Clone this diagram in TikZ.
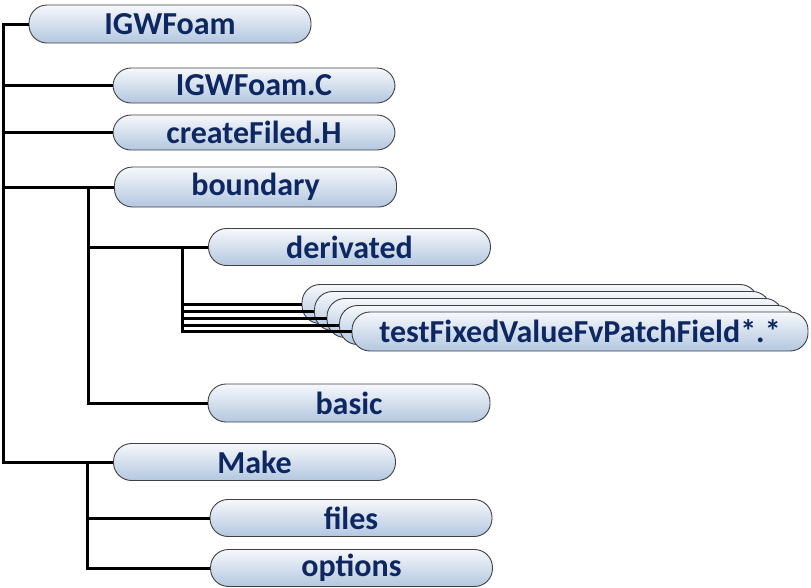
\documentclass[tikz,border=0pt]{standalone}
\usepackage{fontspec}
\setmainfont{Carlito}
\usepackage{xcolor}
\usetikzlibrary{calc,positioning}

\definecolor{navytext}{HTML}{0E2760}
\definecolor{boxtop}{HTML}{F6F8FC}
\definecolor{boxbottom}{HTML}{B3C7E0}
\definecolor{boxedge}{HTML}{404040}

\begin{document}
\begin{tikzpicture}[x=1pt, y=-1pt,
  folder/.style={rectangle, draw=boxedge, line width=0.9pt, top color=boxtop, bottom color=boxbottom,
    rounded corners=18pt, minimum width=282pt, minimum height=37pt, inner sep=0pt,
    text=navytext, font=\fontsize{32}{36}\selectfont\bfseries},
  stackbox/.style={folder, minimum width=456pt, minimum height=39pt},
  tree/.style={draw=black, line width=3pt}
]
\useasboundingbox (0,0) rectangle (811,587);

% top level
\node[folder, minimum height=38pt] (igw) at (170,24) {IGWFoam};
\node[folder, minimum height=35pt] (igwc) at (254,85.5) {IGWFoam.C};
\node[folder, minimum height=35pt] (create) at (254,132.5) {createFiled.H};
\node[folder, minimum height=40pt] (boundary) at (255.5,187) {boundary};
\node[folder] (make) at (254.5,462) {Make};

% boundary
\node[folder] (derivated) at (349.5,247) {derivated};
\node[folder, minimum height=38pt] (basic) at (349,403) {basic};

% stacked patch field files
\foreach \i in {0,...,3}
  \node[stackbox] (stk\i) at ({530+12.5*\i},{304+7*\i}) {};
\node[stackbox] (stk4) at (580,331.5) {testFixedValueFvPatchField*.*};

% Make
\node[folder] (files) at (351,518) {files};
\node[folder] (options) at (351.5,568) {options};

% connectors
\draw[tree] (igw.west) -- ++(-25,0) coordinate (root) |- (make.west);
\foreach \n in {igwc,create,boundary}
  \draw[tree] (root) |- (\n.west);
\draw[tree] (boundary.west) -- ++(-26,0) coordinate (bnd) |- (basic.west);
\draw[tree] (bnd) |- (derivated.west);
\draw[tree] (derivated.west) -- ++(-26,0) coordinate (der) |- (stk4.west);
\foreach \i in {0,...,3}
  \draw[tree] (der) |- (stk\i.west);
\draw[tree] (make.west) -- ++(-26,0) coordinate (mk) |- (options.west);
\draw[tree] (mk) |- (files.west);

\end{tikzpicture}
\end{document}
